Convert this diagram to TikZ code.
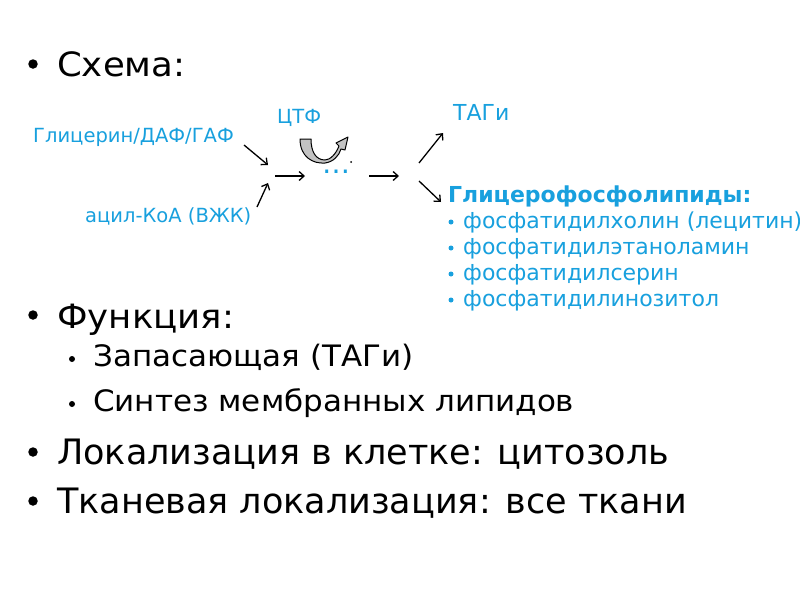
\documentclass[tikz,border=0pt]{standalone}
\usepackage{fontspec}
\setmainfont{DejaVu Sans}
\newfontfamily\widefont[FakeStretch=1.06]{DejaVu Sans}
\newfontfamily\widerfont[FakeStretch=1.05]{DejaVu Sans}
\usetikzlibrary{arrows.meta}
\definecolor{cyanblue}{RGB}{24,160,222}
\definecolor{uturngrey}{RGB}{195,195,195}
\begin{document}
\begin{tikzpicture}[x=1pt,y=-1pt,
  lvlone/.style={anchor=base west,inner sep=0pt,font=\widefont\fontsize{33.5}{38}\selectfont},
  lvltwo/.style={anchor=base west,inner sep=0pt,font=\widerfont\fontsize{29.5}{34}\selectfont},
  lvlbig/.style={anchor=base west,inner sep=0pt,font=\fontsize{35}{40}\selectfont},
  lbl/.style={anchor=base west,inner sep=0pt,text=cyanblue,font=\fontsize{19.5}{23}\selectfont},
  lblr/.style={anchor=base west,inner sep=0pt,text=cyanblue,font=\fontsize{22}{26}\selectfont},
  bighead/.style={anchor=base west,inner sep=0pt,text=cyanblue,font=\bfseries\fontsize{22}{26}\selectfont},
  mainbullet/.style={fill=black,circle,inner sep=0pt,minimum size=9.5pt},
  subbullet/.style={fill=black,circle,inner sep=0pt,minimum size=6pt},
  bluebullet/.style={fill=cyanblue,circle,inner sep=0pt,minimum size=5pt},
  arr/.style={-{Straight Barb[length=5pt,width=9pt]},line width=1.3pt}
]
\useasboundingbox (0,0) rectangle (800,600);
\fill[white] (0,0) rectangle (800,600);

% main bullets and text
\node[mainbullet] (b1) at (33,64) {};
\node[lvlone] (t1) at (57,76) {Схема:};
\node[mainbullet] (b2) at (33,315) {};
\node[lvlone] (t2) at (57,328) {Функция:};
\node[subbullet] (b3) at (72,359) {};
\node[lvltwo] (t3) at (93,366) {Запасающая (ТАГи)};
\node[subbullet] (b4) at (72,404) {};
\node[lvltwo] (t4) at (93,411) {Синтез мембранных липидов};
\node[mainbullet] (b5) at (33,452) {};
\node[lvlbig] (t5) at (57,464) {Локализация в клетке: цитозоль};
\node[mainbullet] (b6) at (33,501) {};
\node[lvlbig] (t6) at (57,513) {Тканевая локализация: все ткани};

% diagram labels
\node[lbl] (gly) at (33,142) {Глицерин/ДАФ/ГАФ};
\node[lbl] (ctf) at (277,123) {ЦТФ};
\node[lbl] (acyl) at (85,222) {ацил-КоА (ВЖК)};
\node[lblr] (tag) at (453,120) {ТАГи};
\node[bighead] (gpl) at (448,202) {Глицерофосфолипиды:};
\node[bluebullet] (bb1) at (451,222) {};
\node[lblr] (l1) at (463,228) {фосфатидилхолин (лецитин)};
\node[bluebullet] (bb2) at (451,248) {};
\node[lblr] (l2) at (463,254) {фосфатидилэтаноламин};
\node[bluebullet] (bb3) at (451,274) {};
\node[lblr] (l3) at (463,280) {фосфатидилсерин};
\node[bluebullet] (bb4) at (451,300) {};
\node[lblr] (l4) at (463,306) {фосфатидилинозитол};
\node[anchor=base west,inner sep=0pt,text=cyanblue,font=\fontsize{28}{30}\selectfont] (dots) at (322,173) {…};

% arrow end points
\coordinate (a1s) at (244,145); \coordinate (a1e) at (268,165);
\coordinate (a2s) at (257,207); \coordinate (a2e) at (268,183);
\coordinate (a3s) at (275,176); \coordinate (a3e) at (305,176);
\coordinate (a4s) at (369,176); \coordinate (a4e) at (399,176);
\coordinate (a5s) at (419,163); \coordinate (a5e) at (443,133);
\coordinate (a6s) at (419,181); \coordinate (a6e) at (441,202);
\draw[arr] (a1s) -- (a1e);
\draw[arr] (a2s) -- (a2e);
\draw[arr] (a3s) -- (a3e);
\draw[arr] (a4s) -- (a4e);
\draw[arr] (a5s) -- (a5e);
\draw[arr] (a6s) -- (a6e);

% U-turn arrow (CTF)
\draw[fill=uturngrey,line width=1pt,line join=round]
  (300,139) .. controls (300,157) and (313,164) .. (325,163)
  .. controls (333,162) and (339,156) .. (341,149)
  -- (345,150) -- (348,137) -- (336,143) -- (339,146)
  .. controls (336,154) and (330,160) .. (325,160)
  .. controls (316,160) and (311,152) .. (311,139) -- cycle;
\fill (351,162) circle (1pt);
\end{tikzpicture}
\end{document}
